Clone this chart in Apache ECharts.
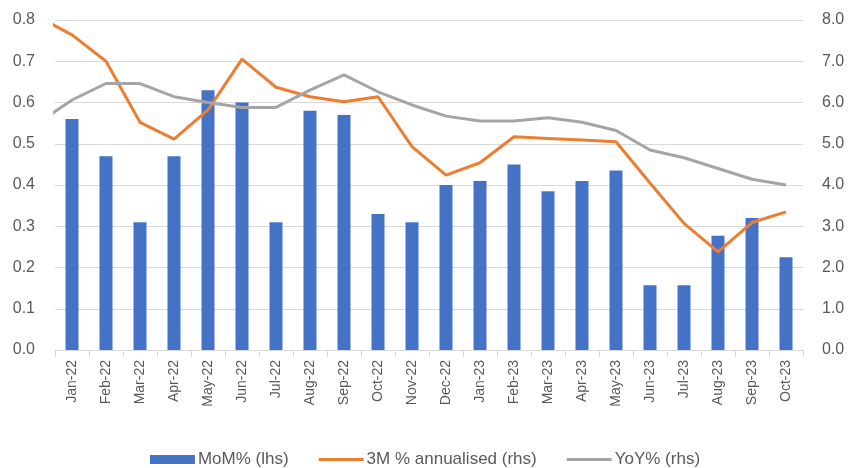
<!DOCTYPE html>
<html>
<head>
<meta charset="utf-8">
<script src="https://cdn.jsdelivr.net/npm/echarts@6/dist/echarts.min.js"></script>
<style>
  html, body { margin: 0; padding: 0; background: #fff; }
  #main { width: 850px; height: 468px; }
</style>
</head>
<body>
<div id="main"></div>
<script>
// months on the x axis
var months = ['Jan-22', 'Feb-22', 'Mar-22', 'Apr-22', 'May-22', 'Jun-22', 'Jul-22', 'Aug-22',
    'Sep-22', 'Oct-22', 'Nov-22', 'Dec-22', 'Jan-23', 'Feb-23', 'Mar-23', 'Apr-23', 'May-23',
    'Jun-23', 'Jul-23', 'Aug-23', 'Sep-23', 'Oct-23'];

// MoM% (lhs)
var mom = [0.56, 0.47, 0.31, 0.47, 0.63, 0.60, 0.31, 0.58, 0.57, 0.33, 0.31, 0.40,
    0.41, 0.45, 0.385, 0.41, 0.435, 0.157, 0.157, 0.277, 0.32, 0.225];

// lines start one month earlier (Dec-21), cut off at the left edge of the plot
var annualised3m = [8.08, 7.64, 7.0, 5.52, 5.11, 5.82, 7.05, 6.37, 6.14, 6.02, 6.14, 4.93, 4.24,
    4.54, 5.17, 5.13, 5.09, 5.05, 4.05, 3.07, 2.38, 3.09, 3.35];
var yoy = [5.5, 6.06, 6.46, 6.46, 6.14, 6.0, 5.88, 5.88, 6.30, 6.67, 6.26, 5.94, 5.67,
    5.55, 5.55, 5.63, 5.52, 5.32, 4.85, 4.66, 4.40, 4.14, 4.0];

var lhsTicks = { min: 0, max: 0.8, interval: 0.1 };
var rhsTicks = { min: 0, max: 8, interval: 1 };

var textColor = '#595959';
var font = 'Liberation Sans';
var lineIcon = 'path://M0,0H47V3H0Z';

function withIndex(arr) {
    // first value sits one category before Jan-22
    return arr.map(function (v, i) { return [i - 1, v]; });
}

var myChart = echarts.init(document.getElementById('main'));

var option = {
    backgroundColor: '#ffffff',
    animation: false,
    textStyle: { fontFamily: font },
    grid: { left: 55, right: 47, top: 20, bottom: 118 },
    legend: {
        top: 446,
        left: 'center',
        itemGap: 30,
        itemWidth: 45,
        itemHeight: 9,
        textStyle: { color: textColor, fontSize: 17, fontFamily: font, padding: [0, 0, 0, -2] },
        data: [
            { name: 'MoM% (lhs)', icon: 'rect' },
            { name: '3M % annualised (rhs)', icon: lineIcon },
            { name: 'YoY% (rhs)', icon: lineIcon }
        ]
    },
    xAxis: [
        {
            type: 'category',
            data: months,
            axisLine: { lineStyle: { color: '#d9d9d9' } },
            axisTick: { show: true, length: 7, lineStyle: { color: '#d9d9d9' } },
            axisLabel: { rotate: 90, color: textColor, fontSize: 14, margin: 10, fontFamily: font }
        },
        {
            type: 'value',
            min: -0.5,
            max: months.length - 0.5,
            show: false
        }
    ],
    yAxis: [
        {
            type: 'value',
            min: lhsTicks.min, max: lhsTicks.max, interval: lhsTicks.interval,
            axisLine: { show: false },
            axisTick: { show: false },
            splitLine: { lineStyle: { color: '#d9d9d9' } },
            axisLabel: {
                color: textColor, fontSize: 16, margin: 20, fontFamily: font,
                formatter: function (v) { return v.toFixed(1); }
            }
        },
        {
            type: 'value',
            min: rhsTicks.min, max: rhsTicks.max, interval: rhsTicks.interval,
            axisLine: { show: false },
            axisTick: { show: false },
            splitLine: { show: false },
            axisLabel: {
                color: textColor, fontSize: 16, margin: 19, fontFamily: font,
                formatter: function (v) { return v.toFixed(1); }
            }
        }
    ],
    series: [
        {
            name: 'MoM% (lhs)',
            type: 'bar',
            xAxisIndex: 0,
            yAxisIndex: 0,
            barWidth: 13,
            itemStyle: { color: '#4472c4' },
            data: mom
        },
        {
            name: '3M % annualised (rhs)',
            type: 'line',
            xAxisIndex: 1,
            yAxisIndex: 1,
            symbol: 'none',
            clip: true,
            lineStyle: { color: '#ed7d31', width: 3 },
            itemStyle: { color: '#ed7d31' },
            data: withIndex(annualised3m)
        },
        {
            name: 'YoY% (rhs)',
            type: 'line',
            xAxisIndex: 1,
            yAxisIndex: 1,
            symbol: 'none',
            clip: true,
            lineStyle: { color: '#a5a5a5', width: 3 },
            itemStyle: { color: '#a5a5a5' },
            data: withIndex(yoy)
        }
    ]
};

myChart.setOption(option);
</script>
</body>
</html>
